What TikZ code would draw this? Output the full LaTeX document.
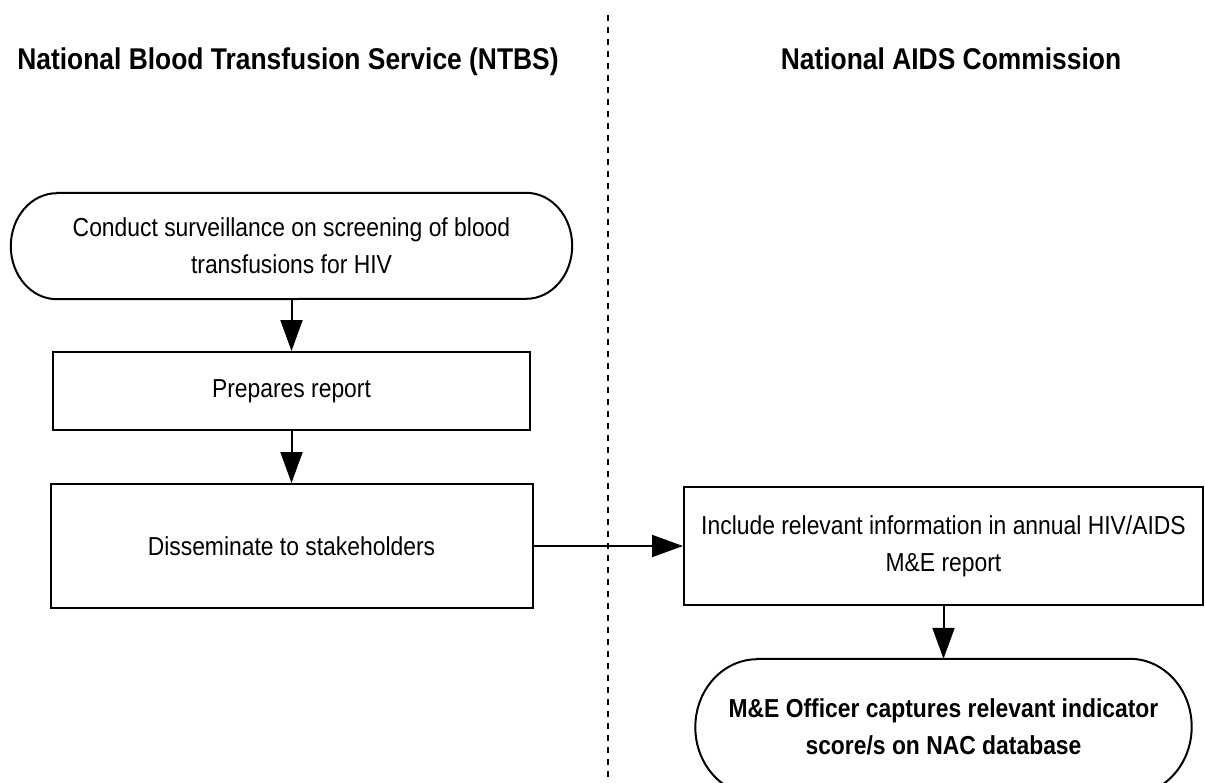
\documentclass[tikz,border=0pt]{standalone}
\usepackage{fontspec}
\setmainfont[FakeStretch=0.88]{Liberation Sans}
\usetikzlibrary{arrows.meta, positioning}
\tikzstyle{fleche} = [-{Triangle[length = 31pt, width = 22pt]}, line width = 2pt]
\tikzstyle{boite} = [draw, line width = 2pt, inner sep = 0pt, align = center, font = \fontsize{26}{37}\selectfont]
\tikzstyle{terminal} = [inner sep = 0pt, align = center, font = \fontsize{26}{37}\selectfont]
\tikzstyle{titre} = [anchor = base, font = \fontsize{30}{36}\selectfont\bfseries]
\tikzstyle{separateur} = [line width = 1.5pt, dash pattern = on 6pt off 6pt]
% contour arrondi d'un noeud terminal : noeud, rayon x, rayon y
\newcommand{\contourterminal}[3]{%
  \draw[line width = 2pt] ([xshift = #2]#1.north west) -- ([xshift = -#2]#1.north east)
    arc[start angle = 90, end angle = -90, x radius = #2, y radius = #3]
    -- ([xshift = #2]#1.south west)
    arc[start angle = 270, end angle = 90, x radius = #2, y radius = #3] -- cycle;}

\begin{document}
\begin{tikzpicture}[x = 1pt, y = -1pt]
	\useasboundingbox (0, 0) rectangle (1205, 782);
	% Titres des colonnes
	\node[titre] (ntbs) at (288, 69) {National Blood Transfusion Service (NTBS)};
	\node[titre] (nac) at (951, 69) {National AIDS Commission};
	% Separateur
	\coordinate (haut) at (608, 15);
	\coordinate (bas) at (608, 782);
	\draw[separateur] (haut) -- (bas);
	% Colonne NTBS
	\node[terminal, minimum width = 561pt, minimum height = 106pt] (surveillance) at (291.5, 246) {Conduct surveillance on screening of blood\\transfusions for HIV};
	\contourterminal{surveillance}{46pt}{53pt}
	\node[boite, minimum width = 477pt, minimum height = 78pt] (rapport) at (291.5, 391) {Prepares report};
	\node[boite, minimum width = 482pt, minimum height = 124pt] (diffusion) at (291.5, 546) {Disseminate to stakeholders};
	% Colonne NAC
	\node[boite, minimum width = 519pt, minimum height = 118pt] (inclusion) at (943.5, 546) {Include relevant information in annual HIV/AIDS\\M\&E report};
	\node[terminal, minimum width = 496pt, minimum height = 136pt, font = \fontsize{26}{37}\selectfont\bfseries] (saisie) at (943.5, 727) {M\&E Officer captures relevant indicator\\score/s on NAC database};
	\contourterminal{saisie}{62pt}{68pt}
	% Fleches
	\draw[fleche] (surveillance) -- (rapport);
	\draw[fleche] (rapport) -- (diffusion);
	\draw[fleche] (diffusion) -- (inclusion);
	\draw[fleche] (inclusion) -- (saisie);
\end{tikzpicture}
\end{document}
